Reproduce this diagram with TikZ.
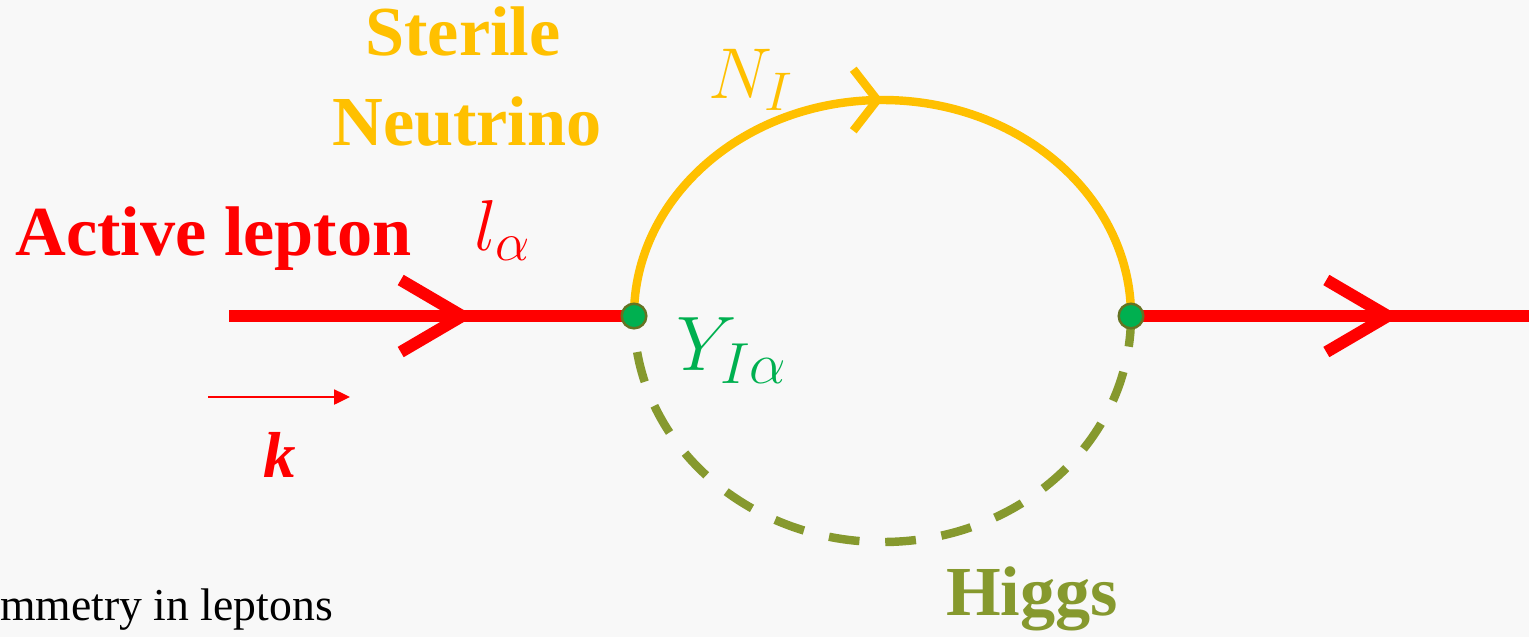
\RequirePackage{fix-cm}
\documentclass[tikz,border=0pt]{standalone}
\usepackage{fontspec}
\setmainfont{Liberation Serif}
\usetikzlibrary{arrows.meta, positioning, decorations.markings}
\DeclareMathSizes{41}{41}{31}{25}
\DeclareMathSizes{44}{44}{33}{27}
\definecolor{leptonred}{RGB}{255,0,0}
\definecolor{sterileyellow}{RGB}{255,192,0}
\definecolor{yukawagreen}{RGB}{0,176,80}
\definecolor{higgsolive}{RGB}{134,153,46}
\definecolor{slidegray}{RGB}{248,248,248}

\begin{document}
\begin{tikzpicture}[
    x=0.02cm, y=0.02cm,
    title/.style={font=\fontsize{40}{48}\selectfont\bfseries, inner sep=0pt},
    sym/.style={font=\fontsize{41}{48}\selectfont, inner sep=0pt},
    lepton/.style={draw=leptonred, line width=6.8pt,
                   postaction={decorate, decoration={markings,
                   mark=at position #1 with {\arrow{Straight Barb[length=35pt, width=41pt]}}}}},
    neutrino/.style={draw=sterileyellow, line width=4.8pt,
                   postaction={decorate, decoration={markings,
                   mark=at position 0.5 with {\arrow{Straight Barb[length=13.6pt, width=35pt]}}}}},
    higgs/.style={draw=higgsolive, line width=4.8pt, dash pattern=on 17.5pt off 14.7pt},
    momentum/.style={draw=leptonred, line width=1.2pt, -{Triangle[length=9pt, width=8.5pt]}},
    vertex/.style={circle, fill=yukawagreen, draw=higgsolive!75!black, line width=1.4pt,
                   minimum size=14pt, inner sep=0pt}
]
\fill[slidegray] (0,0) rectangle (1529,-637);
\useasboundingbox (0,0) rectangle (1529,-637);

\coordinate (inL) at (229,-316);
\coordinate (vL) at (634,-316);
\coordinate (vR) at (1131,-316);
\coordinate (outR) at (1529,-316);

\draw[lepton=0.605] (inL) -- (vL);
\draw[lepton=0.675] (vR) -- (outR);
\draw[neutrino] (vL) arc[start angle=180, end angle=0, x radius=248.5, y radius=216];
\draw[higgs] (vR) arc[start angle=0, end angle=-180, x radius=248.5, y radius=226];

\node[vertex] (dotL) at (vL) {};
\node[vertex] (dotR) at (vR) {};

\node[title, sterileyellow, anchor=base] (sterile) at (463,-55) {Sterile};
\node[title, sterileyellow, anchor=base] (neutrino) at (467,-145) {Neutrino};
\node[title, leptonred, anchor=base west] (active) at (15,-255) {Active lepton};
\node[title, higgsolive, anchor=base] (higgslbl) at (1032,-615) {Higgs};

\node[sym, leptonred, anchor=base west] (lalpha) at (474,-250) {$l_{\alpha}$};
\node[sym, sterileyellow, anchor=base west] (NI) at (708,-98) {$N_I$};
\node[sym, yukawagreen, font=\fontsize{44}{50}\selectfont, anchor=base west] (Yuk) at (676,-370) {$Y_{I\alpha}$};

\coordinate (kstart) at (208,-397);
\coordinate (kend) at (350,-397);
\draw[momentum] (kstart) -- (kend);
\node[leptonred, inner sep=0pt, font=\fontsize{37}{44}\selectfont\bfseries\itshape, anchor=base] (kvec) at (280,-477) {k};

\node[inner sep=0pt, font=\fontsize{26}{30}\selectfont, anchor=base west] (caption) at (0,-620) {mmetry in leptons};
\end{tikzpicture}
\end{document}
